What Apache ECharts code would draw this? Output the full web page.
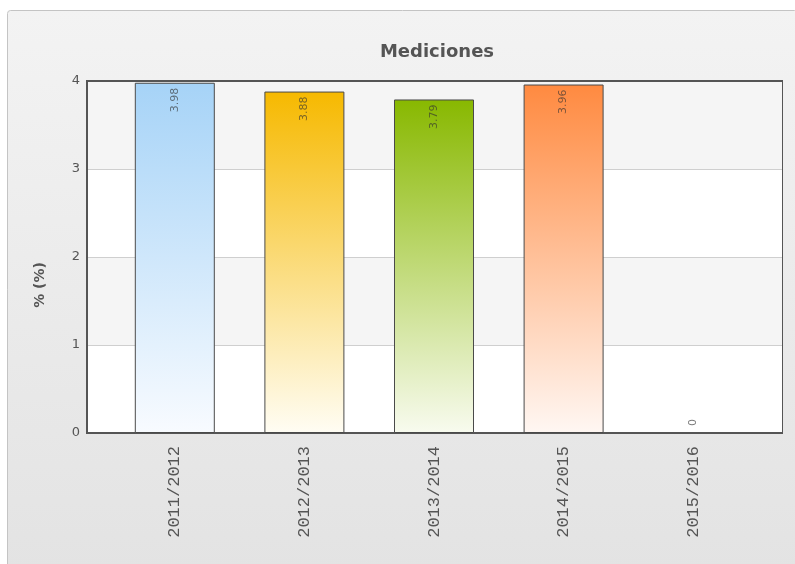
<!DOCTYPE html>
<html>
<head>
<meta charset="utf-8">
<script src="https://cdn.jsdelivr.net/npm/echarts@6/dist/echarts.min.js"></script>
<style>html,body{margin:0;padding:0;background:#fff;}#c{width:795px;height:564px;}</style>
</head>
<body>
<div id="c"></div>
<script>
const titleText = 'Mediciones';
const yAxisName = '% (%)';
const categories = ['2011/2012', '2012/2013', '2013/2014', '2014/2015', '2015/2016'];
const values = [3.98, 3.88, 3.79, 3.96, 0];
const yTicks = [0, 1, 2, 3, 4];
const topColors = ['#a6d3f7', '#f6b900', '#88b800', '#ff8a40', '#cccccc'];
const bottomColors = ['#f8fbff', '#fffdf4', '#f8fbef', '#fff7f3', '#ffffff'];

const chart = echarts.init(document.getElementById('c'), null, {renderer: 'canvas'});

const data = values.map((v, i) => {
  const item = {
    value: v,
    itemStyle: {
      color: new echarts.graphic.LinearGradient(0, 0, 0, 1, [
        {offset: 0, color: topColors[i]},
        {offset: 1, color: bottomColors[i]}
      ])
    }
  };
  if (v === 0) {
    item.itemStyle.borderWidth = 0;
    item.label = {position: 'top', align: 'left', distance: 7};
  }
  return item;
});

const option = {
  animation: false,
  graphic: [{
    type: 'rect',
    z: -10,
    silent: true,
    shape: {x: 7.5, y: 10.5, width: 790, height: 560, r: 3},
    style: {
      stroke: '#c4c4c4',
      lineWidth: 1,
      fill: new echarts.graphic.LinearGradient(0, 0, 0, 1, [
        {offset: 0, color: '#f3f3f3'},
        {offset: 1, color: '#e3e3e3'}
      ])
    }
  }, {
    type: 'text',
    z: 10,
    x: 40,
    y: 285,
    rotation: Math.PI / 2,
    style: {
      text: yAxisName,
      fontFamily: 'DejaVu Sans',
      fontSize: 14,
      fontWeight: 'bold',
      fill: '#555',
      align: 'center',
      verticalAlign: 'middle'
    }
  }],
  title: {
    text: titleText,
    left: 432,
    top: 38,
    textAlign: 'center',
    textStyle: {fontFamily: 'DejaVu Sans', fontSize: 18, fontWeight: 'bold', color: '#555'}
  },
  grid: [
    {left: 87, right: 13, top: 81, bottom: 131, show: true, borderColor: '#555', borderWidth: 2, backgroundColor: 'transparent'},
    {left: 110, right: 37, top: 81, bottom: 131}
  ],
  xAxis: [
    {
      gridIndex: 0, type: 'category', data: categories,
      axisLine: {show: true, lineStyle: {color: '#555', width: 2}},
      axisTick: {show: false}, axisLabel: {show: false}
    },
    {
      gridIndex: 0, type: 'category', data: categories, position: 'top',
      axisLine: {show: true, lineStyle: {color: '#555', width: 2}},
      axisTick: {show: false}, axisLabel: {show: false}
    },
    {
      gridIndex: 1, type: 'category', data: categories,
      axisLine: {show: false}, axisTick: {show: false},
      axisLabel: {rotate: 90, margin: 13, fontFamily: 'Liberation Mono', fontSize: 17, color: '#555'}
    }
  ],
  yAxis: [
    {
      gridIndex: 0, type: 'value', min: yTicks[0], max: yTicks[yTicks.length - 1], interval: 1,
      axisLine: {show: true, lineStyle: {color: '#555', width: 2}},
      axisTick: {show: false},
      axisLabel: {margin: 7, fontFamily: 'DejaVu Sans', fontSize: 13, color: '#555'},
      splitLine: {show: true, lineStyle: {color: '#cfcfcf', width: 1}},
      splitArea: {show: true, areaStyle: {color: ['#ffffff', '#f5f5f5']}}
    },
    {gridIndex: 1, type: 'value', min: yTicks[0], max: yTicks[yTicks.length - 1], interval: 1, show: false, splitLine: {show: false}}
  ],
  series: [{
    type: 'bar',
    xAxisIndex: 2,
    yAxisIndex: 1,
    barWidth: 80,
    data: data,
    itemStyle: {borderColor: '#4a4a4a', borderWidth: 1},
    label: {
      show: true,
      position: 'insideTop',
      rotate: 90,
      align: 'right',
      verticalAlign: 'middle',
      distance: 5,
      fontFamily: 'DejaVu Sans',
      fontSize: 11,
      color: 'rgba(50,50,50,0.65)'
    }
  }]
};
chart.setOption(option);
</script>
</body>
</html>
